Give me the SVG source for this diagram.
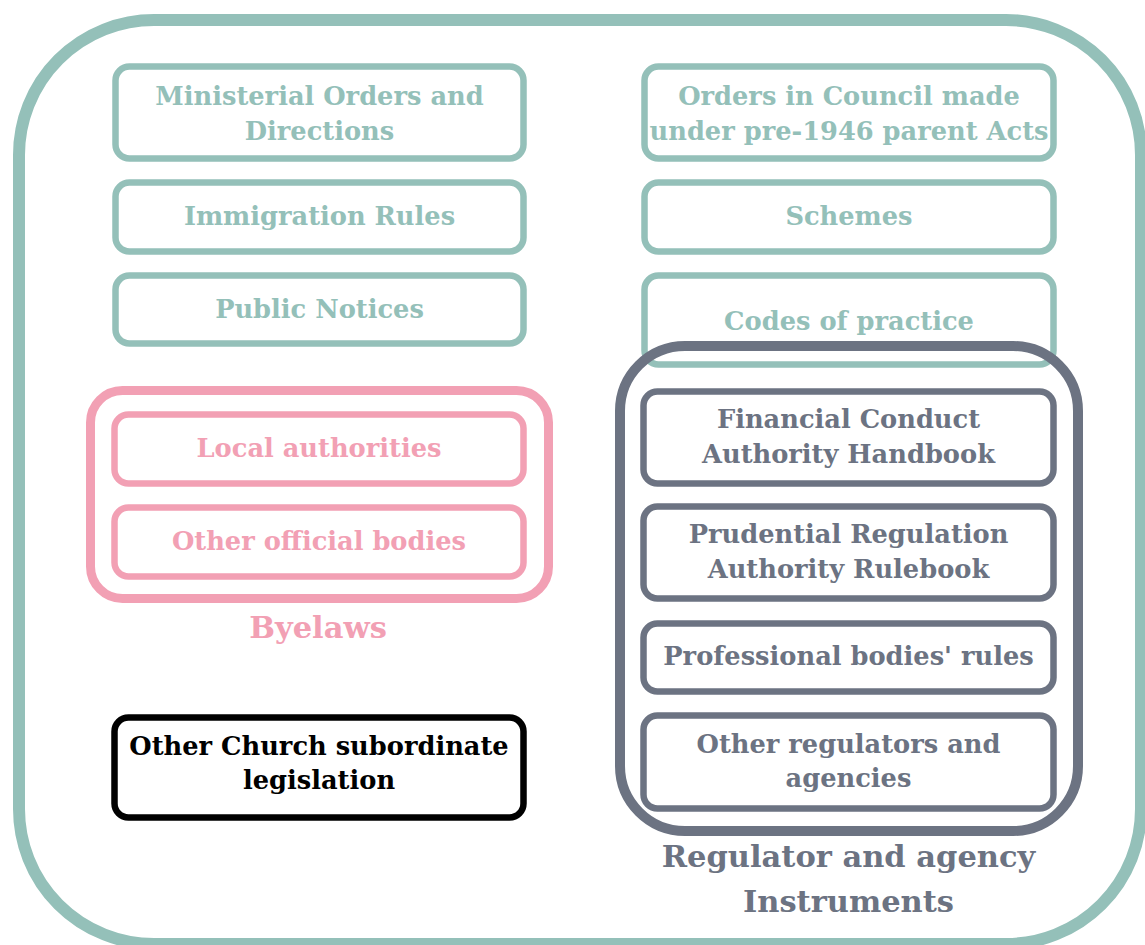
<svg xmlns="http://www.w3.org/2000/svg" width="1145" height="945" viewBox="0 0 1145 945">
<style>
text{font-family:"DejaVu Serif","Liberation Serif",serif;font-weight:bold;text-anchor:middle;font-size:25.7px}
.teal rect{fill:none;stroke:#94C0B9;stroke-width:6.5}
.teal text{fill:#94C0B9}
.pink rect{fill:none;stroke:#F2A0B4;stroke-width:6.5}
.pink text{fill:#F2A0B4}
.gray rect{fill:none;stroke:#6C7382;stroke-width:6.5}
.gray text{fill:#6C7382}
.black rect{fill:none;stroke:#000;stroke-width:6.5}
.black text{fill:#000}
.label{font-size:30.5px}
</style>
<rect width="1145" height="945" fill="#fff"/>
<g id="frame"><rect x="19" y="20" width="1122" height="924" rx="135" fill="none" stroke="#94C0B9" stroke-width="12"/></g>

<g id="ministerial" class="teal"><rect x="115.5" y="66.5" width="408" height="92" rx="14"/><text x="319.5" y="105">Ministerial Orders and</text><text x="319.5" y="140">Directions</text></g>
<g id="immigration" class="teal"><rect x="115.5" y="182.5" width="408" height="69" rx="14"/><text x="319.5" y="225">Immigration Rules</text></g>
<g id="public-notices" class="teal"><rect x="115.5" y="275.5" width="408" height="68" rx="14"/><text x="319.5" y="318">Public Notices</text></g>

<g id="orders-council" class="teal"><rect x="644.5" y="66.5" width="409" height="92" rx="14"/><text x="849" y="105">Orders in Council made</text><text x="849" y="140">under pre-1946 parent Acts</text></g>
<g id="schemes" class="teal"><rect x="644.5" y="182.5" width="409" height="69" rx="14"/><text x="849" y="225">Schemes</text></g>
<g id="codes" class="teal"><rect x="644.5" y="275.5" width="409" height="89" rx="14"/><text x="849" y="330">Codes of practice</text></g>

<g id="byelaws" class="pink"><rect x="90.5" y="390.5" width="458" height="208" rx="32" style="stroke-width:9"/><text class="label" x="318" y="638">Byelaws</text></g>
<g id="local-authorities" class="pink"><rect x="114.5" y="414.5" width="409" height="69" rx="14"/><text x="319" y="457">Local authorities</text></g>
<g id="other-official" class="pink"><rect x="114.5" y="507.5" width="409" height="69" rx="14"/><text x="319" y="550">Other official bodies</text></g>

<g id="church" class="black"><rect x="114.5" y="717.5" width="409" height="100" rx="14"/><text x="319" y="755">Other Church subordinate</text><text x="319" y="789">legislation</text></g>

<g id="regulator" class="gray"><rect x="620" y="346" width="458" height="485" rx="65" style="stroke-width:10"/><text class="label" x="848.5" y="867">Regulator and agency</text><text class="label" x="848.5" y="912">Instruments</text></g>
<g id="fca" class="gray"><rect x="643.5" y="391.5" width="410" height="92" rx="14"/><text x="848.5" y="428">Financial Conduct</text><text x="848.5" y="463">Authority Handbook</text></g>
<g id="pra" class="gray"><rect x="643.5" y="506.5" width="410" height="92" rx="14"/><text x="848.5" y="543">Prudential Regulation</text><text x="848.5" y="578">Authority Rulebook</text></g>
<g id="professional" class="gray"><rect x="643.5" y="623.5" width="410" height="68" rx="14"/><text x="848.5" y="665">Professional bodies' rules</text></g>
<g id="other-regulators" class="gray"><rect x="643.5" y="715.5" width="410" height="93" rx="14"/><text x="848.5" y="753">Other regulators and</text><text x="848.5" y="787">agencies</text></g>
<g id="connectors"/>
</svg>
